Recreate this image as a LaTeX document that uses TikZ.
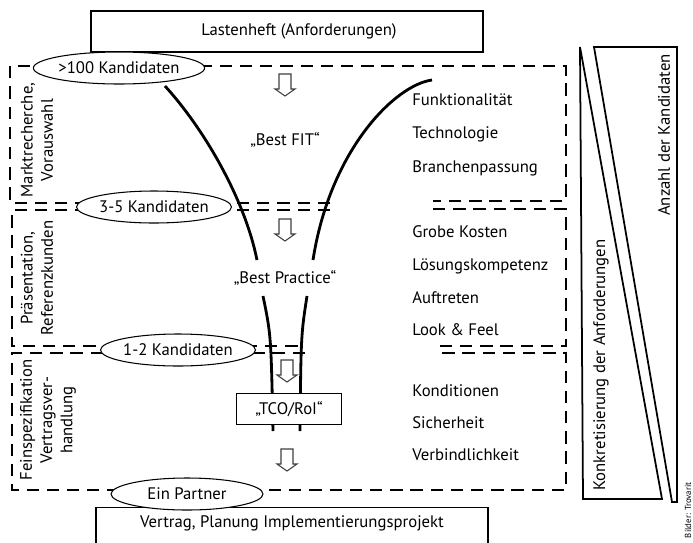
\documentclass[tikz,border=0pt]{standalone}
\usepackage{fontspec}
\setmainfont{PT Sans}
\usepackage{tikz}
\usetikzlibrary{shapes.geometric}
\newdimen\pxu \pxu=0.02cm
\tikzset{t/.style={font=\fontsize{9.5}{11.5}\selectfont}}
\tikzset{tiny/.style={font=\fontsize{5}{6}\selectfont}}
\tikzset{kand/.style={draw, ellipse, line width=0.6pt, fill=white, inner sep=0pt, minimum width=152\pxu, minimum height=32\pxu, t}}
\tikzset{bx/.style={draw, line width=0.8pt, fill=white, inner sep=0pt, t}}
\tikzset{dsh/.style={line width=1.3pt, dash pattern=on 7pt off 4.5pt}}
\tikzset{fun/.style={line width=1.6pt}}
\tikzset{krit/.style={t, anchor=west, inner sep=0pt}}
\tikzset{phase/.style={t, rotate=90, align=center, inner sep=0pt}}
\tikzset{hohl/.pic={\draw[line width=0.6pt, black!75, fill=white] (-6,-11) -- (6,-11) -- (6,4) -- (10,4) -- (0,11) -- (-10,4) -- (-6,4) -- cycle;}}

\begin{document}
\begin{tikzpicture}[x=0.02cm, y=-0.02cm]
  \useasboundingbox (0,0) rectangle (693,542);
  \clip (0,0) rectangle (693,542);
  \fill[white] (0,0) rectangle (693,542);

  % phases (dashed boxes)
  \draw[dsh] (330,203) -- (10,203) -- (10,66) -- (566,66) -- (566,201) -- (433,201);
  \draw[dsh] (330,210) -- (12,210) -- (12,346) -- (305,346);
  \draw[dsh] (433,209) -- (566,209) -- (566,346) -- (436,346);
  \draw[dsh] (305,353) -- (12,353) -- (12,490) -- (566,490) -- (566,353) -- (436,353);

  % funnel
  \draw[fun] (165,86) .. controls (205,130) and (245,200) .. (257,260);
  \draw[fun] (432,80) .. controls (395,85) and (330,150) .. (313,260);
  \draw[fun] (263,296) .. controls (271,335) .. (273,431);
  \draw[fun] (307,296) .. controls (301,335) .. (300,431);

  % top and bottom boxes
  \node[bx, minimum width=392\pxu, minimum height=41\pxu] (last) at (287,31.5) {\hspace{24\pxu}Lastenheft (Anforderungen)};
  \node[bx, anchor=north, minimum width=392\pxu, inner ysep=8\pxu, text depth=30\pxu] (vertrag) at (292,507) {Vertrag, Planung Implementierungsprojekt};

  % candidates
  \node[kand] (k100) at (119,68) {>100 Kandidaten};
  \node[kand] (k35) at (154,207) {3-5 Kandidaten};
  \node[kand] (k12) at (178,350) {1-2 Kandidaten};
  \node[kand] (k1) at (187,494) {Ein Partner};

  % hollow arrows
  \pic at (285,85) {hohl};
  \pic at (285,230) {hohl};
  \pic at (287,371) {hohl};
  \pic at (287,460) {hohl};

  % funnel labels
  \node[t] (fit) at (285,140) {„Best FIT“};
  \node[t] (prac) at (285,278) {„Best Practice“};
  \node[bx, minimum width=105\pxu, minimum height=31\pxu] (tco) at (289,409) {„TCO/RoI“};

  % criteria
  \node[krit] (c1) at (412,100) {Funktionalität};
  \node[krit] (c2) at (412,134) {Technologie};
  \node[krit] (c3) at (412,168) {Branchenpassung};
  \node[krit] (c4) at (412,232) {Grobe Kosten};
  \node[krit] (c5) at (412,266) {Lösungskompetenz};
  \node[krit] (c6) at (412,298) {Auftreten};
  \node[krit] (c7) at (412,330) {Look \& Feel};
  \node[krit] (c8) at (412,391) {Konditionen};
  \node[krit] (c9) at (412,423) {Sicherheit};
  \node[krit] (c10) at (412,455) {Verbindlichkeit};

  % phase names
  \node[phase] (ph1) at (37,140) {Marktrecherche,\\Vorauswahl};
  \node[phase] (ph2) at (37,278) {Präsentation,\\Referenzkunden};
  \node[phase] (ph3) at (48,420) {Feinspezifikation\\Vertragsver-\\handlung};

  % wedges
  \draw[line width=1pt] (580,47) -- (583,499) -- (662,499) -- cycle;
  \draw[line width=1pt] (594,47) -- (677,47) -- (677,502) -- (672,502) -- cycle;
  \node[t, rotate=90] (konk) at (601,365) {Konkretisierung der Anforderungen};
  \node[t, rotate=90] (anz) at (664,135) {Anzahl der Kandidaten};
  \node[tiny, rotate=90, anchor=east, inner sep=0pt] (bild) at (688,482) {Bilder: Trovarit};
\end{tikzpicture}
\end{document}
